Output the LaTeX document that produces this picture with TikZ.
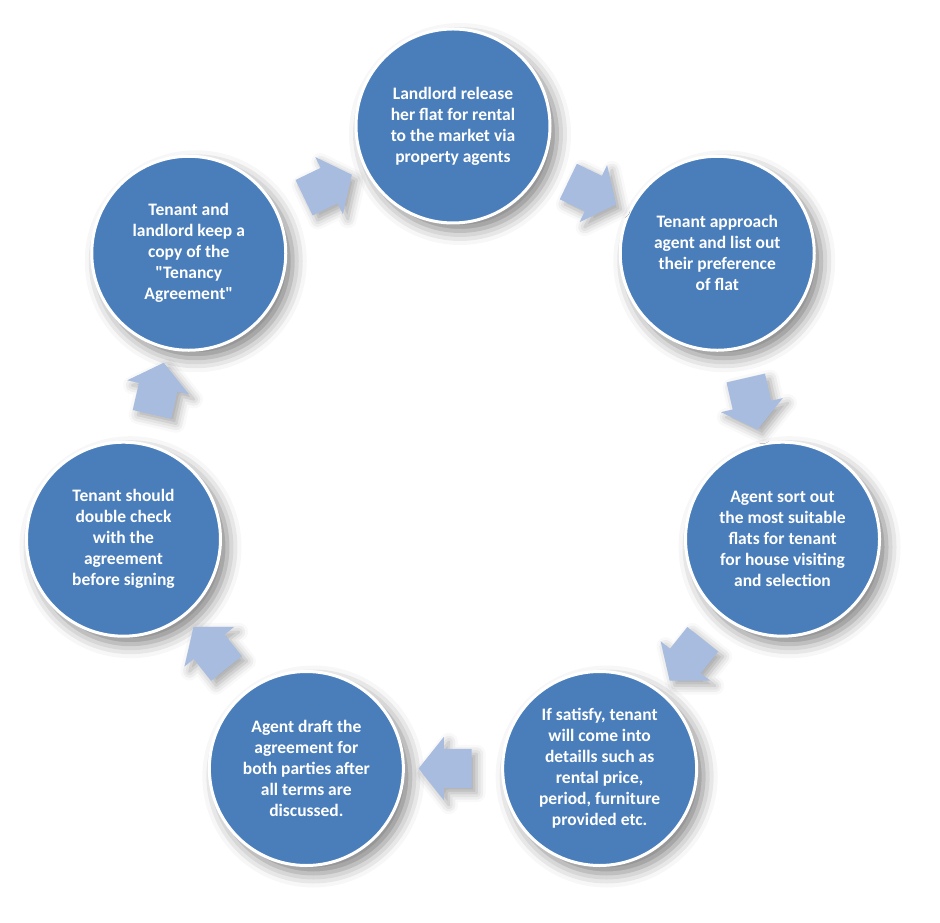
\documentclass[tikz,border=0pt]{standalone}
\usepackage{fontspec}
\setmainfont{Carlito}
\usetikzlibrary{shapes.arrows,calc,shadows.blur}
\definecolor{stepblue}{HTML}{4A7EBB}
\definecolor{arrowblue}{HTML}{A7BCDF}
\tikzset{
  stepcircle/.style={circle,fill=stepblue,draw=white,line width=3pt,
    minimum size=194pt,inner sep=0pt,align=center,text=white,
    font=\fontsize{17.5}{21}\selectfont\bfseries,
    blur shadow={shadow xshift=7pt,shadow yshift=-8pt,shadow blur radius=14pt,shadow opacity=50}},
  flowarrow/.style={single arrow,fill=arrowblue,draw=none,inner sep=0pt,
    text height=19.5pt,text depth=19.5pt,minimum height=53pt,
    single arrow head extend=12pt,single arrow tip angle=103,
    blur shadow={shadow xshift=5pt,shadow yshift=-5pt,shadow blur radius=9pt,shadow opacity=35}}
}
\begin{document}
\begin{tikzpicture}[x=1pt,y=1pt]
  \useasboundingbox (0,0) rectangle (940,923);
  \coordinate (c) at (453,459);
  % Steps of the rental cycle
  \foreach \k/\txt in {
      0/{Landlord release\\her flat for rental\\to the market via\\property agents},
      1/{Tenant approach\\agent and list out\\their preference\\of flat},
      2/{Agent sort out\\the most suitable\\flats for tenant\\for house visiting\\and selection},
      3/{If satisfy, tenant\\will come into\\detaills such as\\rental price,\\period, furniture\\provided etc.},
      4/{Agent draft the\\agreement for\\both parties after\\all terms are\\discussed.},
      5/{Tenant should\\double check\\with the\\agreement\\before signing},
      6/{Tenant and\\landlord keep a\\copy of the\\\textquotedbl Tenancy\\Agreement\textquotedbl}}{
    \node[stepcircle] (s\k) at ($(c)+({90-\k*360/7}:338)$) {\txt};
  }
  % Arrows between steps
  \foreach \k/\n in {0/1,1/2,2/3,3/4,4/5,5/6,6/0}{
    \node[flowarrow,rotate={-(\k+0.5)*360/7}] (a\k) at ($(s\k)!0.5!(s\n)$) {};
  }
\end{tikzpicture}
\end{document}
